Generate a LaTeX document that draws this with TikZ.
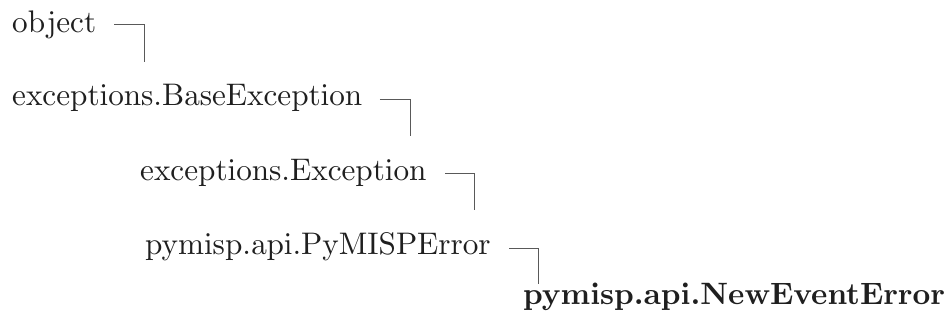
\documentclass[tikz,border=0pt]{standalone}
\font\bigrm=cmr10 at 31.2pt
\font\bigbf=cmbx10 at 30.9pt
\begin{document}
\begin{tikzpicture}[x=1pt,y=-1pt,
  lbl/.style={anchor=base west, inner sep=0pt, text=black!88, font=\bigrm},
  conn/.style={line width=1pt, draw=black!65}]
\useasboundingbox (0,0) rectangle (948,320);
\node[lbl] (obj) at (12,33) {object};
\node[lbl] (base) at (12,106) {exceptions.BaseException};
\node[lbl] (exc) at (140,181) {exceptions.Exception};
\node[lbl] (pye) at (145,255) {pymisp.api.PyMISPError};
\node[lbl, font=\bigbf] (nee) at (523,305) {pymisp.api.NewEventError};
\coordinate (c1) at (144,62);
\coordinate (c2) at (410,136);
\coordinate (c3) at (474,210);
\coordinate (c4) at (538,284);
\draw[conn] ([xshift=18pt,yshift=8pt]obj.base east) -| (c1);
\draw[conn] ([xshift=17pt,yshift=6pt]base.base east) -| (c2);
\draw[conn] ([xshift=18pt,yshift=7pt]exc.base east) -| (c3);
\draw[conn] ([xshift=18pt,yshift=6pt]pye.base east) -| (c4);
\end{tikzpicture}
\end{document}
